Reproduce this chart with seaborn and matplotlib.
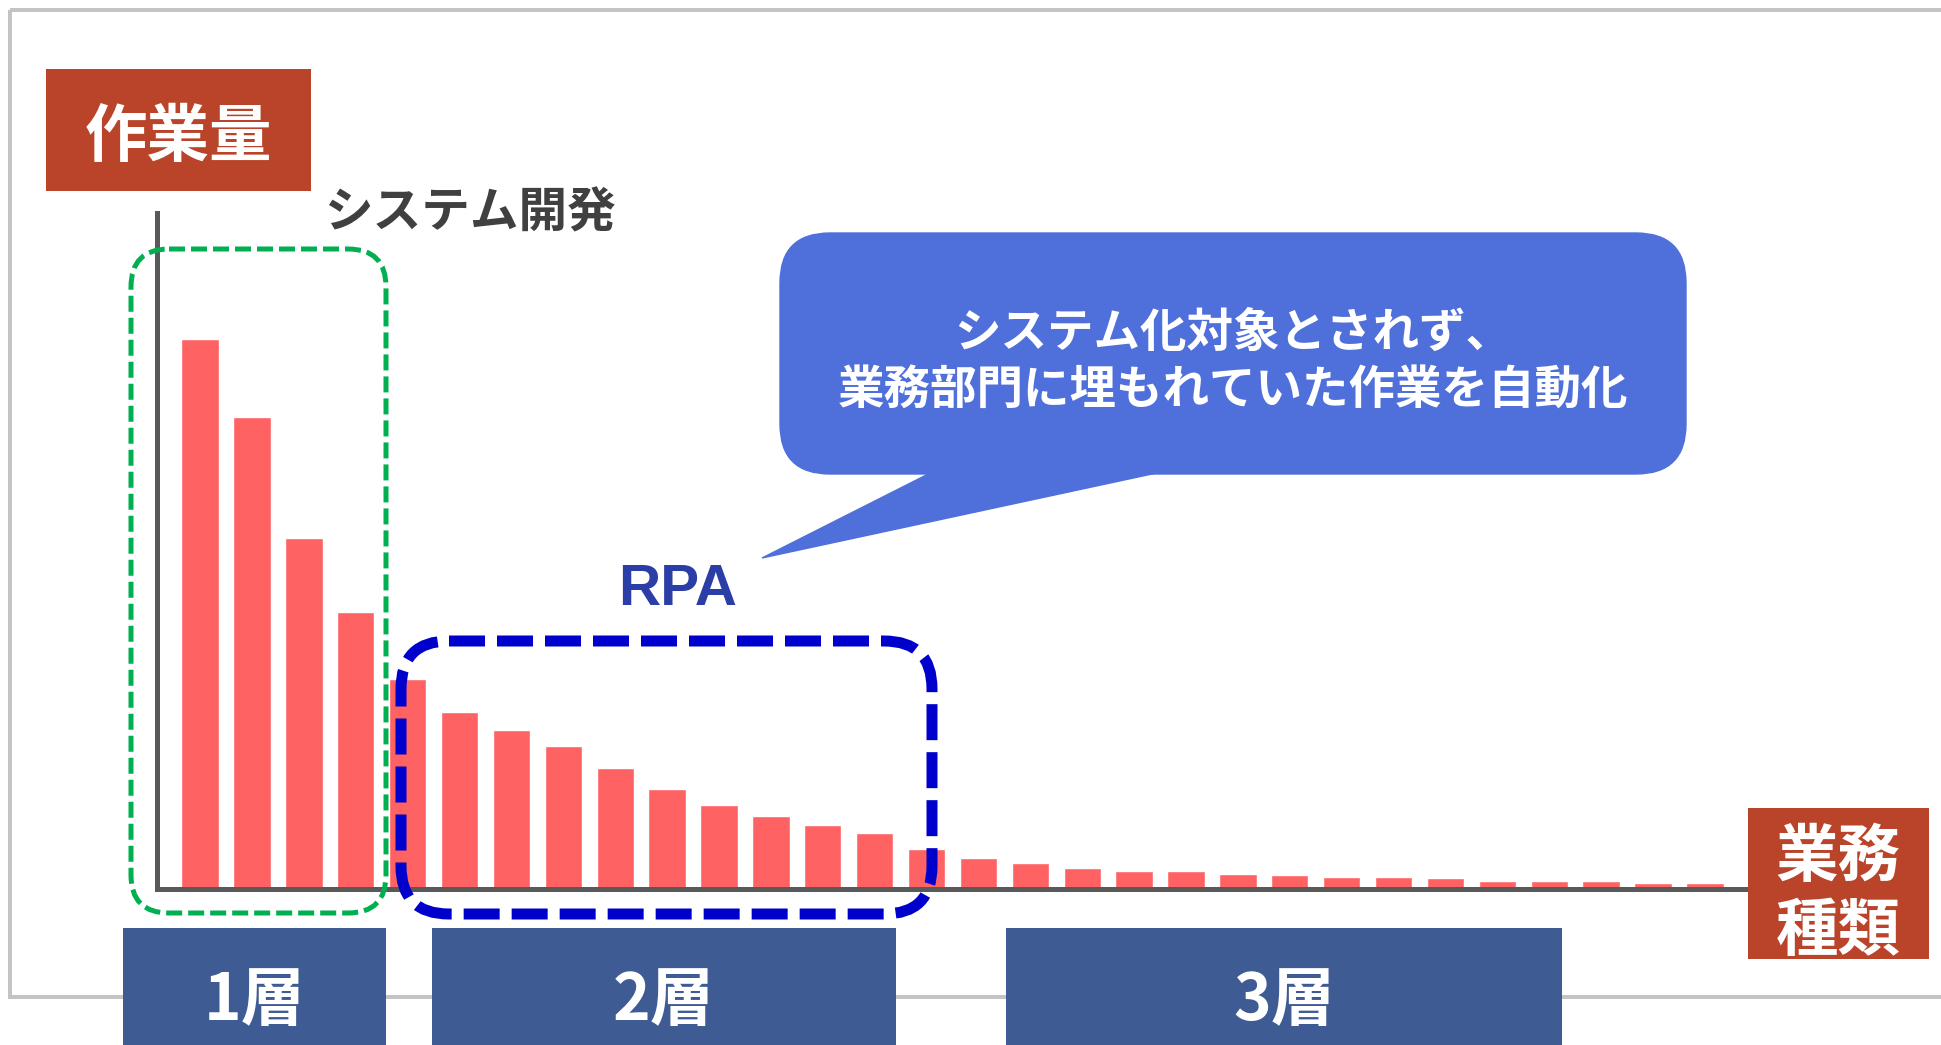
import matplotlib.pyplot as plt
import matplotlib.transforms as mtransforms
from matplotlib.patches import Rectangle, FancyBboxPatch, Polygon
import seaborn as sns

# 業務の種類ごとの作業量（多い順）
work_types = [f"業務{i}" for i in range(1, 31)]
workload = [550, 472, 351, 277, 210, 177, 159, 143, 121, 100,
            84, 73, 64, 56, 40, 31, 26, 21, 18, 18,
            15, 14, 12, 12, 11, 8, 8, 8, 6, 6]

# テキスト
y_label = '作業量'
x_label = ['業務', '種類']
system_label = 'システム開発'
rpa_label = 'RPA'
callout_lines = ['システム化対象とされず、', '業務部門に埋もれていた作業を自動化']
layer_labels = ['1層', '2層', '3層']

W, H = 1941, 1045
sns.set_style('white')
plt.rcParams['font.family'] = ['Noto Sans CJK JP', 'DejaVu Sans']
plt.rcParams['lines.scale_dashes'] = False

fig = plt.figure(figsize=(W / 100, H / 100), dpi=100)
# ピクセル座標（左上原点）で配置するための変換
px = mtransforms.Affine2D().scale(1 / W, -1 / H).translate(0, 1) + fig.transFigure


def pt(p):
    # ピクセル -> ポイント (dpi=100)
    return p * 0.72


# 外枠
fig.patches.append(Rectangle((10, 10), 2000, 987, transform=px, fill=False,
                             ec='#C4C4C4', lw=pt(4), zorder=-1))

# 棒グラフ
ax = fig.add_axes([157 / W, (H - 889) / H, (1748 - 157) / W, (889 - 213) / H])
sns.barplot(x=work_types, y=workload, color='#FF6262', saturation=1, width=0.72, ax=ax)
ax.set_xlim(-0.83, 29.83)
ax.set_ylim(0, 676)
ax.set_xticks([])
ax.set_yticks([])
ax.set_xlabel('')
ax.set_ylabel('')
ax.patch.set_alpha(0)
for s in ['top', 'right']:
    ax.spines[s].set_visible(False)
for s in ['left', 'bottom']:
    ax.spines[s].set_color('#595959')
    ax.spines[s].set_linewidth(pt(5))

# 軸ラベルの箱
fig.patches.append(Rectangle((46, 69), 265, 122, transform=px, fc='#B9442A', ec='none'))
fig.text(178, 138, y_label, transform=px, ha='center', va='center',
         fontsize=45, weight='bold', color='white')
fig.patches.append(Rectangle((1748, 808), 181, 151, transform=px, fc='#B9442A', ec='none'))
fig.text(1838, 857, x_label[0], transform=px, ha='center', va='center',
         fontsize=45, weight='bold', color='white')
fig.text(1838, 931, x_label[1], transform=px, ha='center', va='center',
         fontsize=45, weight='bold', color='white')

# システム開発の範囲（緑の点線）
fig.patches.append(FancyBboxPatch((131, 249), 386 - 131, 913 - 249, transform=px,
                                  boxstyle='round,pad=0,rounding_size=38', fill=False,
                                  ec='#00B050', lw=pt(5), ls=(0, (pt(16), pt(6)))))
fig.text(470, 213, system_label, transform=px, ha='center', va='center',
         fontsize=35, weight='bold', color='#404040')

# RPAの範囲（青の点線）
fig.patches.append(FancyBboxPatch((401, 641), 932 - 401, 914 - 641, transform=px,
                                  boxstyle='round,pad=0,rounding_size=48', fill=False,
                                  ec='#0000CC', lw=pt(11), ls=(0, (pt(36), pt(12)))))
fig.text(678, 590, rpa_label, transform=px, ha='center', va='center',
         fontsize=42, weight='bold', color='#2B3DA6', family='Liberation Sans')

# 吹き出し
fig.patches.append(FancyBboxPatch((780, 233), 906, 241, transform=px,
                                  boxstyle='round,pad=0,rounding_size=50',
                                  fc='#4F6FDB', ec='#4F6FDB', lw=1))
fig.patches.append(Polygon([(956, 460), (1217, 460), (762, 558)], closed=True,
                           transform=px, fc='#4F6FDB', ec='#4F6FDB', lw=1))
fig.text(1233, 333, callout_lines[0], transform=px, ha='center', va='center',
         fontsize=33.5, weight='bold', color='white')
fig.text(1233, 391, callout_lines[1], transform=px, ha='center', va='center',
         fontsize=33.5, weight='bold', color='white')

# 層の箱
for (x0, x1), label in zip([(123, 386), (432, 896), (1006, 1562)], layer_labels):
    fig.patches.append(Rectangle((x0, 928), x1 - x0, 130, transform=px,
                                 fc='#3E5B94', ec='none'))
    fig.text((x0 + x1) / 2, 1001, label, transform=px, ha='center', va='center',
             fontsize=46, weight='bold', color='white')

fig.savefig('out.png', dpi=100)
